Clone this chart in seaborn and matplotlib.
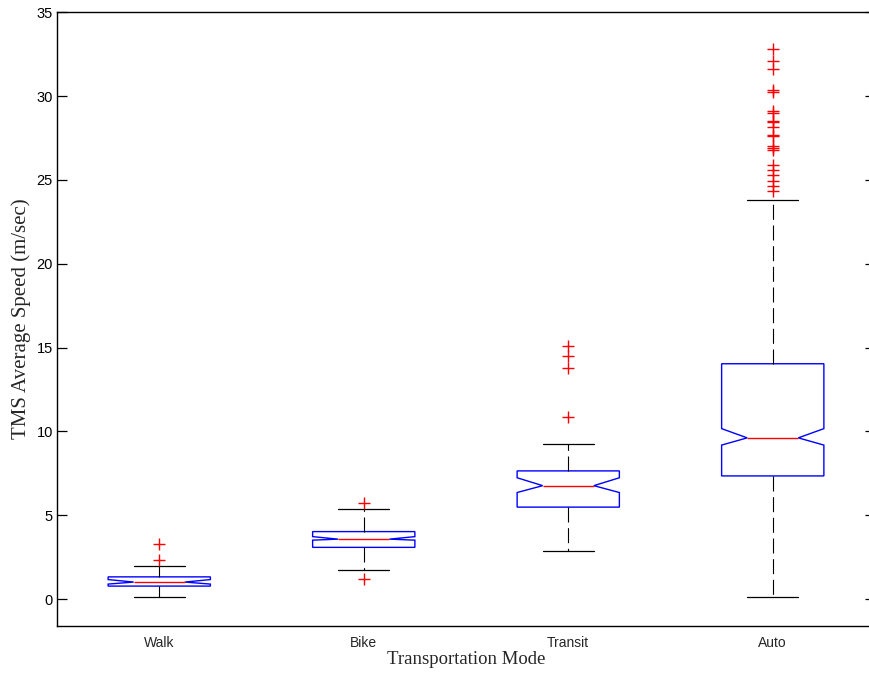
import numpy as np
import pandas as pd
import seaborn as sns
import matplotlib
matplotlib.use("Agg")
import matplotlib.pyplot as plt

# values
modes = ['Walk', 'Bike', 'Transit', 'Auto']
q1 = [0.78, 3.09, 5.49, 7.35]
median = [1.02, 3.58, 6.77, 9.62]
q3 = [1.33, 4.03, 7.65, 14.04]
whisker_low = [0.12, 1.72, 2.85, 0.12]
whisker_high = [1.97, 5.38, 9.25, 23.80]
notch_low = [0.90, 3.52, 6.36, 9.19]
notch_high = [1.17, 3.73, 7.24, 10.17]

walk_outliers = [2.36, 3.30]
bike_outliers = [1.21, 5.71]
transit_outliers = [10.89, 13.79, 14.49, 15.10]
auto_outliers = [24.33, 24.67, 24.96, 25.27, 25.57, 25.90, 26.76, 26.90, 27.00,
                 27.64, 27.70, 28.17, 28.46, 28.50, 28.99, 29.14, 30.27, 30.36,
                 31.60, 32.10, 32.80]
outliers = [walk_outliers, bike_outliers, transit_outliers, auto_outliers]

# long-form table of the read values, one row per value
rows = []
for i, m in enumerate(modes):
    for v in [whisker_low[i], q1[i], median[i], q3[i], whisker_high[i]] + outliers[i]:
        rows.append({'Transportation Mode': m, 'Speed': v})
df = pd.DataFrame(rows)

# summary statistics handed to matplotlib's bxp (notched boxes)
stats = []
for i in range(len(modes)):
    stats.append({
        'med': median[i], 'q1': q1[i], 'q3': q3[i],
        'whislo': whisker_low[i], 'whishi': whisker_high[i],
        'cilo': notch_low[i], 'cihi': notch_high[i],
        'fliers': np.array(outliers[i]),
    })

sns.set_style('white', rc={'ytick.left': True, 'ytick.right': True,
                           'ytick.direction': 'in', 'ytick.color': 'black'})
plt.rcParams['font.family'] = ['Liberation Sans', 'DejaVu Sans']

fig = plt.figure(figsize=(8.7, 6.74), dpi=100)
ax = fig.add_axes([57 / 870, 48 / 674, 818 / 870, 613.7 / 674])

sns.boxplot(
    data=df, x='Transportation Mode', y='Speed', order=modes, ax=ax,
    width=0.5, fill=True, bxpstats=stats, shownotches=True,
    boxprops=dict(facecolor='white', edgecolor='blue', linewidth=1.0),
    medianprops=dict(color='red', linewidth=1.0),
    whiskerprops=dict(color='black', linewidth=0.8, linestyle=(0, (13.5, 5.1))),
    capprops=dict(color='black', linewidth=0.9),
    flierprops=dict(marker='+', markeredgecolor='red', markersize=8,
                    markeredgewidth=1.0, linestyle='none'),
)

ax.set_xlim(-0.5, 3.5)
ax.set_ylim(-1.6, 35)
ax.set_yticks([0, 5, 10, 15, 20, 25, 30, 35])

for side in ['left', 'top', 'bottom']:
    ax.spines[side].set_visible(True)
    ax.spines[side].set_color('black')
    ax.spines[side].set_linewidth(1.0)
# right edge of the box lies just past the picture's border
ax.spines['right'].set_visible(False)

ax.yaxis.set_ticks_position('both')
ax.tick_params(axis='y', which='major', direction='in', length=7, width=0.9,
               left=True, right=True, labelleft=True, labelright=False,
               labelsize=10.5, pad=3, color='black')
ax.tick_params(axis='x', length=0, labelsize=10, pad=7)

ax.set_xlabel('Transportation Mode', family=['Liberation Serif', 'DejaVu Serif'],
              fontsize=13.5, labelpad=1)
ax.set_ylabel('TMS Average Speed (m/sec)', family=['Liberation Serif', 'DejaVu Serif'],
              fontsize=15, labelpad=4)

fig.savefig('out.png', dpi=100)
